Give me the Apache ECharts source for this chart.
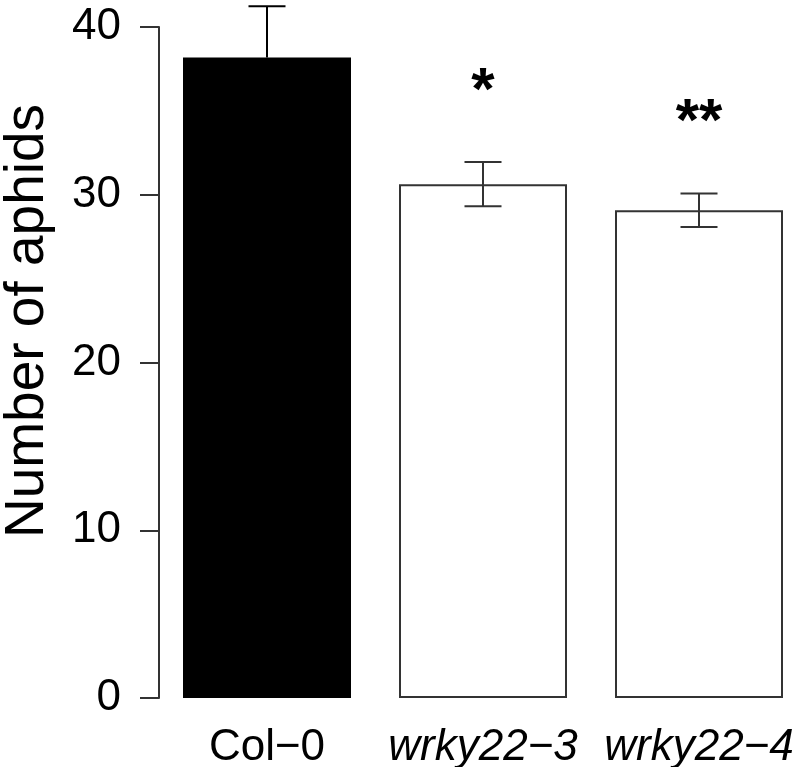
<!DOCTYPE html>
<html>
<head>
<meta charset="utf-8">
<script src="https://cdn.jsdelivr.net/npm/echarts@6/dist/echarts.min.js"></script>
<style>
html,body{margin:0;padding:0;background:#fff;}
#chart{width:800px;height:767px;}
</style>
</head>
<body>
<div id="chart"></div>
<script>
var categories = ['Col\u22120', 'wrky22\u22123', 'wrky22\u22124'];
var means = [38.18, 30.62, 29.07];
var errHigh = [41.23, 31.95, 30.07];
var errLow = [35.13, 29.31, 28.08];
var stars = ['', '*', '**'];
var yTicks = [0, 10, 20, 30, 40];

var fillColors = ['#000000', '#ffffff', '#ffffff'];
var lineColor = '#333333';

var chart = echarts.init(document.getElementById('chart'), null, {renderer: 'canvas'});

var barData = means.map(function (v, i) {
  return {
    value: v,
    itemStyle: {
      color: fillColors[i],
      borderColor: i === 0 ? '#000000' : lineColor,
      borderWidth: 2
    }
  };
});

var errData = means.map(function (v, i) { return [i, errLow[i], errHigh[i]]; });

var option = {
  backgroundColor: '#ffffff',
  animation: false,
  grid: {left: 159, top: 27, width: 648, height: 671, containLabel: false, outerBoundsMode: 'none'},
  xAxis: {
    type: 'category',
    data: categories,
    axisLine: {show: false},
    axisTick: {show: false},
    axisLabel: {
      interval: 0,
      hideOverlap: false,
      margin: 28,
      fontSize: 44,
      color: '#000',
      fontFamily: 'Liberation Sans, Arial, sans-serif',
      formatter: function (v, i) { return i === 0 ? v : '{it|' + v + '}'; },
      rich: {
        it: {fontStyle: 'italic', fontSize: 44, color: '#000', fontFamily: 'Liberation Sans, Arial, sans-serif'}
      }
    }
  },
  yAxis: {
    type: 'value',
    min: 0,
    max: 40,
    interval: 10,
    splitLine: {show: false},
    axisLine: {show: true, lineStyle: {color: lineColor, width: 2}},
    axisTick: {show: true, length: 19, lineStyle: {color: lineColor, width: 2}},
    axisLabel: {
      margin: 38,
      fontSize: 44,
      color: '#000',
      fontFamily: 'Liberation Sans, Arial, sans-serif',
      formatter: function (v) { return yTicks.indexOf(v) >= 0 ? String(v) : ''; }
    }
  },
  graphic: [{
    type: 'text',
    x: 28,
    y: 321,
    rotation: Math.PI / 2,
    style: {
      text: 'Number of aphids',
      fontSize: 55,
      fontFamily: 'Liberation Sans, Arial, sans-serif',
      fill: '#000',
      align: 'center',
      verticalAlign: 'middle'
    }
  }],
  series: [{
    type: 'bar',
    data: barData,
    barWidth: 168,
    z: 2
  }, {
    type: 'custom',
    data: errData,
    z: 3,
    clip: false,
    renderItem: function (params, api) {
      var i = api.value(0);
      var lo = api.coord([i, api.value(1)]);
      var hi = api.coord([i, api.value(2)]);
      var half = 18.5;
      var col = i === 0 ? '#000' : lineColor;
      var st = {stroke: col, lineWidth: 2};
      var children = [
        {type: 'line', shape: {x1: hi[0], y1: hi[1], x2: lo[0], y2: lo[1]}, style: st},
        {type: 'line', shape: {x1: hi[0] - half, y1: hi[1], x2: hi[0] + half, y2: hi[1]}, style: st},
        {type: 'line', shape: {x1: lo[0] - half, y1: lo[1], x2: lo[0] + half, y2: lo[1]}, style: st}
      ];
      if (i === 0) {
        children[0].shape.y2 = api.coord([i, means[i]])[1];
        children.pop();
      }
      if (stars[i]) {
        children.push({
          type: 'text',
          x: hi[0],
          y: hi[1] - 70,
          style: {
            text: stars[i],
            fontSize: 60,
            fontWeight: 'bold',
            fontFamily: 'Liberation Sans, Arial, sans-serif',
            fill: '#000',
            align: 'center',
            verticalAlign: 'middle'
          }
        });
      }
      return {type: 'group', children: children};
    }
  }]
};
chart.setOption(option);
</script>
</body>
</html>
